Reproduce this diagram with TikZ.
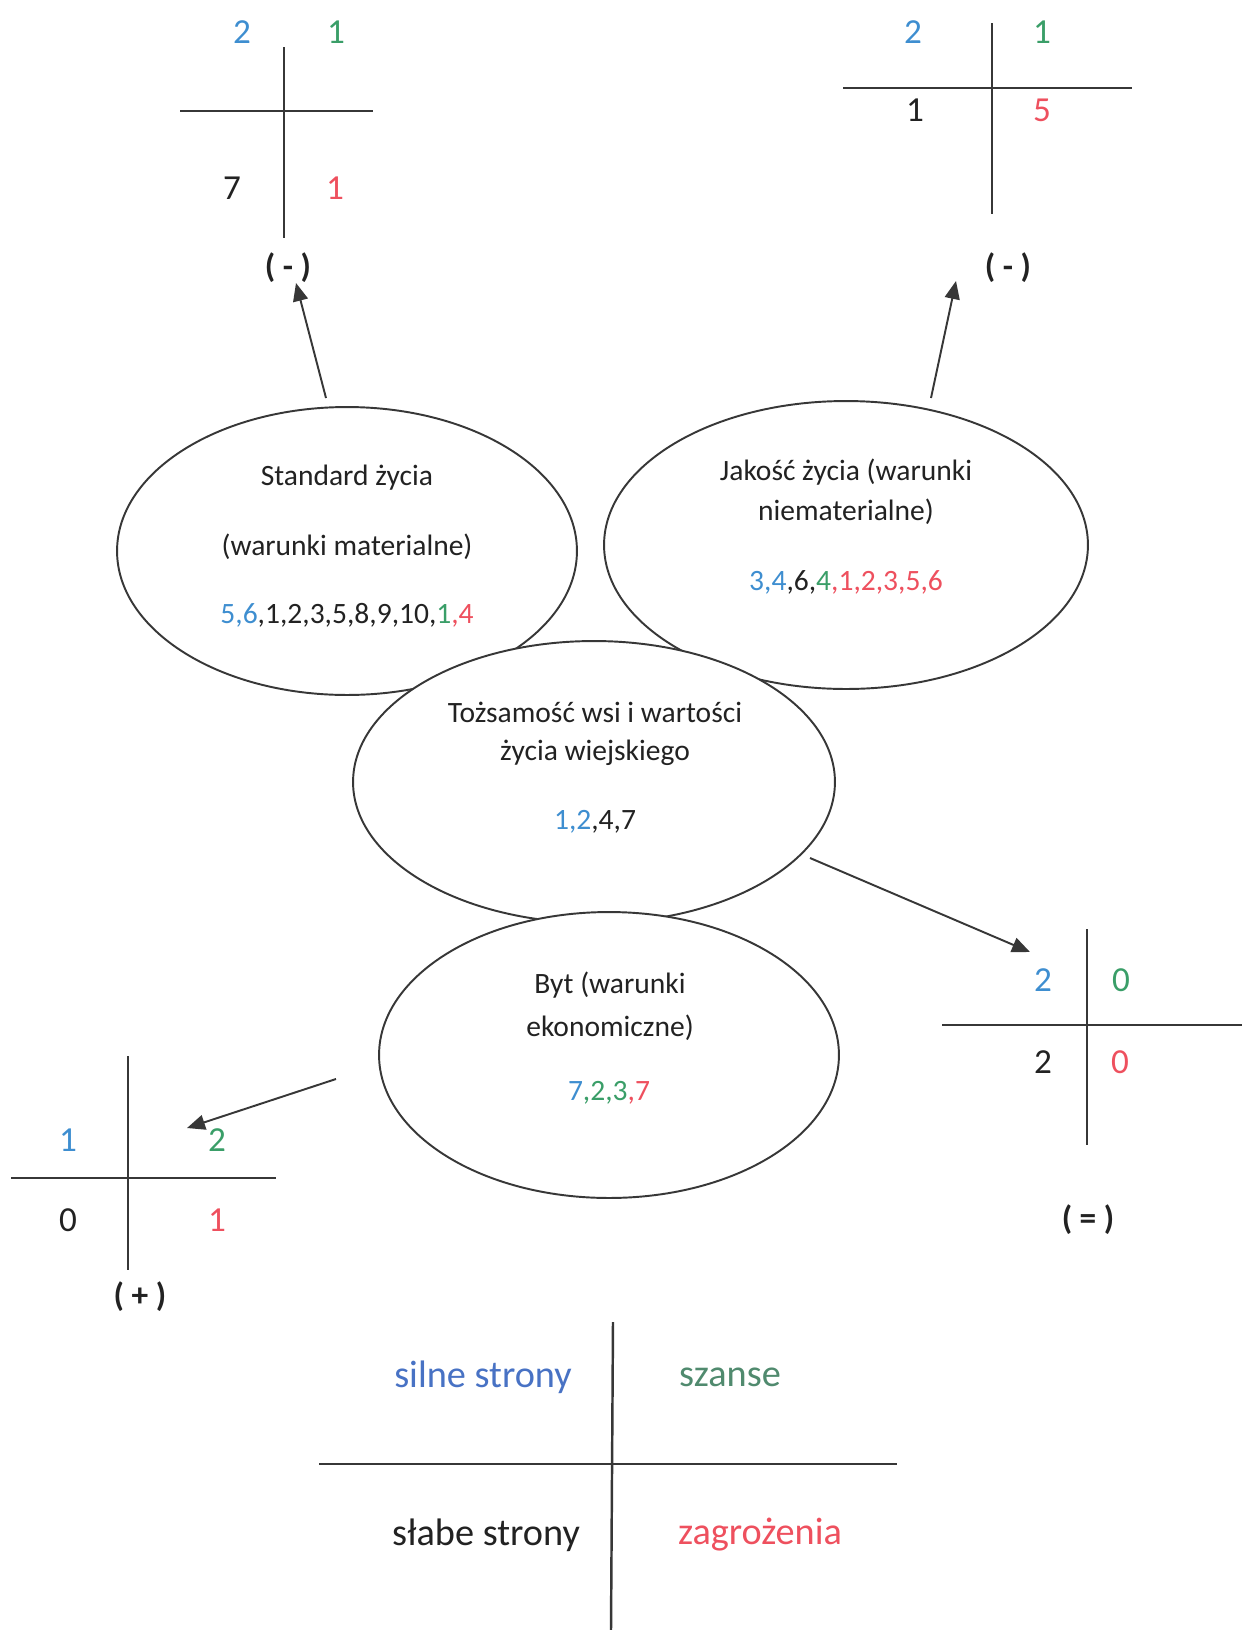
\documentclass[tikz,border=0pt]{standalone}
\usepackage{fontspec}
\setmainfont{Carlito}
\usetikzlibrary{shapes.geometric,arrows.meta}
\definecolor{nblue}{RGB}{62,142,208}
\definecolor{ngreen}{RGB}{58,158,104}
\definecolor{nred}{RGB}{238,80,94}
\definecolor{lblue}{RGB}{72,114,196}
\definecolor{lgreen}{RGB}{80,138,110}
\definecolor{tblack}{RGB}{34,34,34}
\definecolor{linegray}{RGB}{55,55,55}
\begin{document}
\begin{tikzpicture}[x=0.02cm,y=-0.02cm,
  ell/.style={ellipse,draw=linegray,line width=1.1pt,fill=white,inner sep=0pt},
  etext/.style={font=\fontsize{16.8}{19}\selectfont,text=tblack,inner sep=0pt},
  num/.style={font=\fontsize{20}{24}\selectfont,inner sep=0pt},
  sign/.style={font=\fontsize{19}{22}\selectfont\bfseries,text=tblack,inner sep=0pt},
  leg/.style={font=\fontsize{21.8}{26}\selectfont,inner sep=0pt},
  axisline/.style={draw=linegray,line width=1.4pt},
  arr/.style={draw=linegray,line width=1.1pt,-{Triangle[length=0.36cm,width=0.3cm]}}
]
\useasboundingbox (0,0) rectangle (1242,1630);

% ellipses
\node[ell,minimum width=9.2cm,minimum height=5.76cm] (std) at (347,551) {};
\node[ell,minimum width=9.68cm,minimum height=5.76cm] (jak) at (846,545) {};
\node[ell,minimum width=9.64cm,minimum height=5.64cm] (toz) at (594,782) {};
\node[ell,minimum width=9.2cm,minimum height=5.72cm] (byt) at (609,1055) {};

% ellipse texts
\node[etext] (std1) at (347,478) {Standard życia};
\node[etext] (std2) at (347,547) {(warunki materialne)};
\node[etext] (std3) at (347,615) {\textcolor{nblue}{5,6},1,2,3,5,8,9,10,\textcolor{ngreen}{1}\textcolor{nred}{,4}};

\node[etext] (jak1) at (846,472) {Jakość życia (warunki};
\node[etext] (jak2) at (846,512) {niematerialne)};
\node[etext] (jak3) at (846,582) {\textcolor{nblue}{3,4},6,\textcolor{ngreen}{4}\textcolor{nred}{,1,2,3,5,6}};

\node[etext] (toz1) at (595,712) {Tożsamość wsi i wartości};
\node[etext] (toz2) at (595,753) {życia wiejskiego};
\node[etext] (toz3) at (595,822) {\textcolor{nblue}{1,2},4,7};

\node[etext] (byt1) at (610,985) {Byt (warunki};
\node[etext] (byt2) at (610,1028) {ekonomiczne)};
\node[etext] (byt3) at (609,1093) {\textcolor{nblue}{7}\textcolor{ngreen}{,2,3}\textcolor{nred}{,7}};

% cross top-left
\draw[axisline] (284,47) -- (284,238);
\draw[axisline] (180,111) -- (373,111);
\node[num,text=nblue] (tl1) at (242,32) {2};
\node[num,text=ngreen] (tl2) at (336,32) {1};
\node[num,text=tblack] (tl3) at (232,188) {7};
\node[num,text=nred] (tl4) at (335,188) {1};
\node[sign] (tls) at (288,268) {( - )};

% cross top-right
\draw[axisline] (992,23) -- (992,214);
\draw[axisline] (843,88) -- (1132,88);
\node[num,text=nblue] (tr1) at (913,32) {2};
\node[num,text=ngreen] (tr2) at (1042,32) {1};
\node[num,text=tblack] (tr3) at (915,110) {1};
\node[num,text=nred] (tr4) at (1042,110) {5};
\node[sign] (trs) at (1008,268) {( - )};

% cross bottom-right
\draw[axisline] (1087,929) -- (1087,1145);
\draw[axisline] (942,1025) -- (1242,1025);
\node[num,text=nblue] (br1) at (1043,980) {2};
\node[num,text=ngreen] (br2) at (1121,980) {0};
\node[num,text=tblack] (br3) at (1043,1062) {2};
\node[num,text=nred] (br4) at (1120,1062) {0};
\node[sign] (brs) at (1088,1220) {( = )};

% cross bottom-left
\draw[axisline] (128,1056) -- (128,1270);
\draw[axisline] (11,1178) -- (276,1178);
\node[num,text=nblue] (bl1) at (68,1140) {1};
\node[num,text=ngreen] (bl2) at (217,1140) {2};
\node[num,text=tblack] (bl3) at (68,1220) {0};
\node[num,text=nred] (bl4) at (217,1220) {1};
\node[sign] (bls) at (140,1297) {( + )};

% arrows
\coordinate (a1s) at (326,398);
\coordinate (a1e) at (296,283);
\coordinate (a2s) at (931,398);
\coordinate (a2e) at (956,281);
\coordinate (a3s) at (810,858);
\coordinate (a3e) at (1030,952);
\coordinate (a4s) at (336,1079);
\coordinate (a4e) at (187,1128);
\draw[arr] (a1s) -- (a1e);
\draw[arr] (a2s) -- (a2e);
\draw[arr] (a3s) -- (a3e);
\draw[arr] (a4s) -- (a4e);

% legend
\draw[axisline] (613,1322) -- (611,1630);
\draw[axisline] (319,1464) -- (897,1464);
\node[leg,text=lblue] (lg1) at (483,1377) {silne strony};
\node[leg,text=lgreen] (lg2) at (730,1377) {szanse};
\node[leg,text=tblack] (lg3) at (486,1535) {słabe strony};
\node[leg,text=nred] (lg4) at (760,1535) {zagrożenia};
\end{tikzpicture}
\end{document}
